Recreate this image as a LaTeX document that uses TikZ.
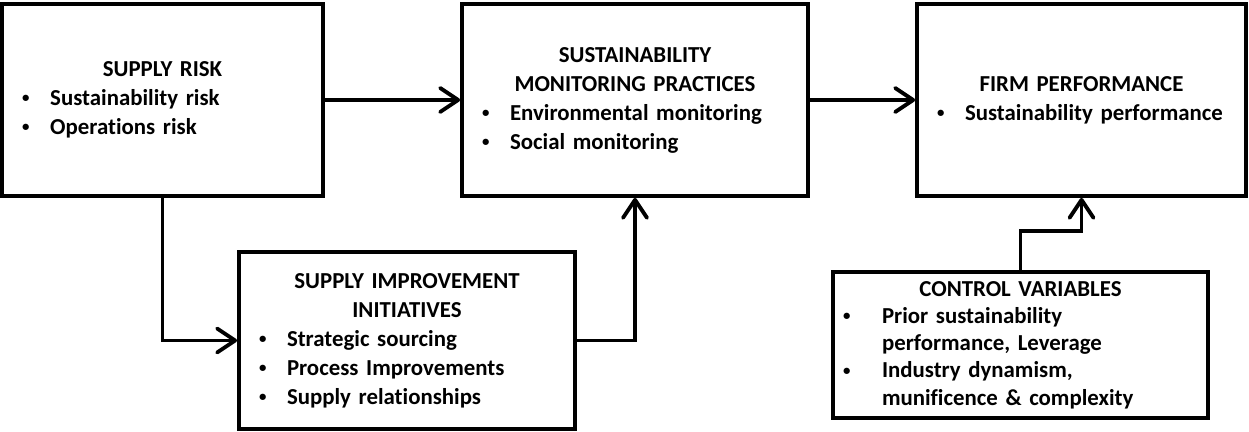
\documentclass[tikz,border=0pt]{standalone}
\usepackage{fontspec}
\setmainfont{Carlito}[Ligatures={NoCommon}]
\usepackage{tikz}
\usetikzlibrary{arrows.meta}

\newlength{\bgap}
\setlength{\bgap}{0.56cm}
\newcommand{\hd}[1]{{\centering #1\par}}
\newcommand{\itm}[2][\bgap]{\noindent\hangindent=#1\hangafter=1\makebox[#1][l]{\raisebox{0.25ex}{\scalebox{0.65}{\textbullet}}}#2\par}

\begin{document}
\begin{tikzpicture}[
		box/.style={draw, line width=2.2pt, inner xsep=0.4cm, inner ysep=0pt, align=left,
			font=\fontsize{13pt}{16.5pt}\selectfont\bfseries,
			execute at begin node={\setlength{\parindent}{0pt}\hyphenpenalty=10000}},
		arr/.style={line width=2.2pt, -{Straight Barb[length=3.6mm,width=4.8mm,round]}}
	]
		\useasboundingbox (0,0) rectangle (24.98,-8.64);

		% Top row
		\node[box, minimum width=6.41cm, minimum height=3.84cm, text width=5.61cm] (risk) at (3.25,-2)
			{\hd{SUPPLY RISK}\itm{Sustainability risk}\itm{Operations risk}};
		\node[box, minimum width=6.92cm, minimum height=3.84cm, text width=6.12cm] (smp) at (12.7,-2)
			{\hd{SUSTAINABILITY}\hd{MONITORING PRACTICES}\itm{Environmental monitoring}\itm{Social monitoring}};
		\node[box, minimum width=6.58cm, minimum height=3.84cm, text width=5.78cm] (firm) at (21.63,-2)
			{\hd{FIRM PERFORMANCE}\itm{Sustainability performance}};

		% Bottom row
		\node[box, minimum width=6.72cm, minimum height=3.54cm, text width=5.92cm] (sii) at (8.14,-6.81)
			{\hd{SUPPLY IMPROVEMENT}\hd{INITIATIVES}\itm{Strategic sourcing}\itm{Process Improvements}\itm{Supply relationships}};
		\node[box, minimum width=7.5cm, minimum height=2.92cm, text width=7.1cm, inner xsep=0.2cm,
			font=\fontsize{13pt}{15.5pt}\selectfont\bfseries] (ctrl) at (20.41,-6.9)
			{\hd{CONTROL VARIABLES}\itm[0.78cm]{Prior sustainability\newline performance, Leverage}\itm[0.78cm]{Industry dynamism,\newline munificence \& complexity}};

		% Paths
		\draw[arr] (risk.east) -- (smp.west);
		\draw[arr] (smp.east) -- (firm.west);
		\draw[arr] (risk.south) |- (sii.west);
		\draw[arr] (sii.east) -| (smp.south);
		\draw[arr] (ctrl.north) -- ++(0,0.78) -| (firm.south);
	\end{tikzpicture}
\end{document}
